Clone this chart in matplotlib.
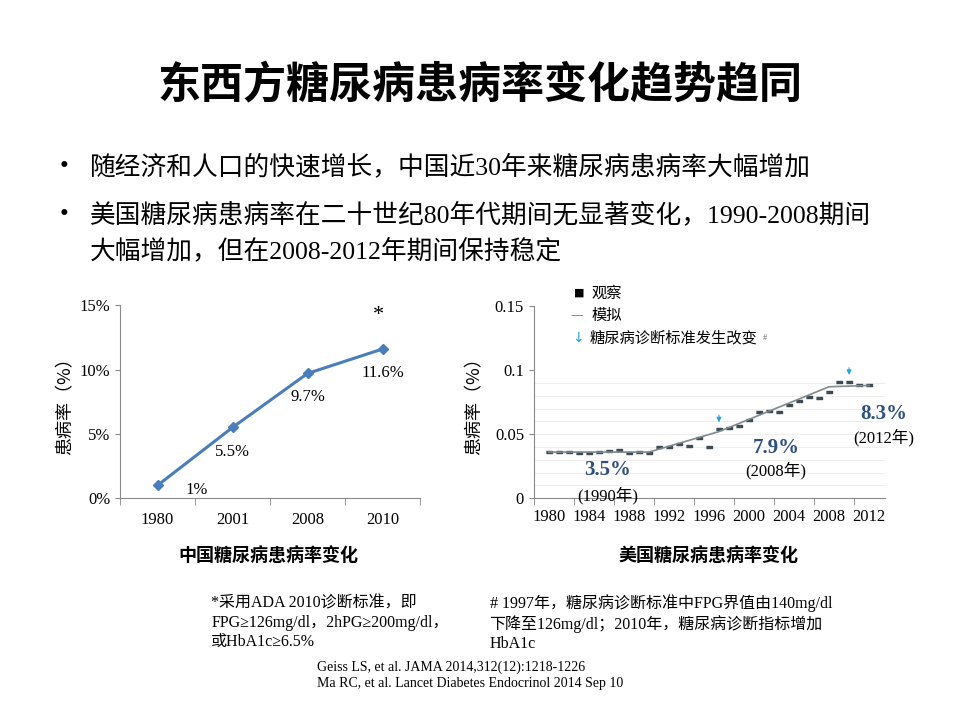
import numpy as np
import matplotlib.pyplot as plt
from matplotlib.ticker import FixedLocator, FuncFormatter

# fonts: serif for latin, CJK fallback
MIX = ['Liberation Serif', 'Noto Sans CJK SC']
CJK = ['Noto Sans CJK SC', 'DejaVu Sans']
plt.rcParams['font.family'] = MIX

# left chart data (China)
cn_years = ['1980', '2001', '2008', '2010']
cn_rate = [1.0, 5.5, 9.7, 11.6]
cn_labels = ['1%', '5.5%', '9.7%', '11.6%']

# right chart data (USA)
us_years = np.arange(1980, 2013)
us_obs = [0.036, 0.036, 0.036, 0.035, 0.035, 0.036, 0.037, 0.038, 0.035, 0.036, 0.035,
          0.040, 0.040, 0.042, 0.041, 0.047, 0.040,
          0.054, 0.055, 0.056, 0.061, 0.067, 0.068, 0.067, 0.073, 0.076, 0.079,
          0.078, 0.083, 0.091, 0.091, 0.088, 0.088]
model_years = [1980, 1990, 1997, 2008, 2012]
model_vals = [0.036, 0.036, 0.052, 0.087, 0.088]
change_years = [1997, 2010]

fig = plt.figure(figsize=(9.6, 7.2), dpi=100)
fig.patch.set_facecolor('white')

fig.text(0.5, 0.882, '东西方糖尿病患病率变化趋势趋同', family=CJK, fontsize=31,
         fontweight='bold', ha='center', va='center')
bul = [(0.768, '随经济和人口的快速增长，中国近30年来糖尿病患病率大幅增加'),
       (0.702, '美国糖尿病患病率在二十世纪80年代期间无显著变化，1990-2008期间'),
       (0.651, '大幅增加，但在2008-2012年期间保持稳定')]
for i, (y, s) in enumerate(bul):
    if i < 2:
        fig.text(0.062, y, '•', fontsize=18, va='center')
    fig.text(0.094, y, s, fontsize=18.5, va='center')

# ---- left chart ----
ax1 = fig.add_axes([0.125, 0.308, 0.3125, 0.268])
x = np.arange(len(cn_years))
blue = '#4a7ebb'
ax1.plot(x, cn_rate, color=blue, lw=2.2, marker='D', ms=5)
ax1.set_xlim(-0.5, 3.5)
ax1.set_ylim(0, 15)
ax1.set_yticks([0, 5, 10, 15])
ax1.yaxis.set_major_formatter(FuncFormatter(lambda v, p: '%d%%' % v))
ax1.set_xticks(x)
ax1.set_xticklabels(cn_years)
ax1.xaxis.set_minor_locator(FixedLocator([-0.5, 0.5, 1.5, 2.5, 3.5]))
ax1.tick_params(axis='x', which='major', length=0, pad=10, labelsize=12)
ax1.tick_params(axis='x', which='minor', length=5, color='#888888')
ax1.tick_params(axis='y', labelsize=12, color='#888888')
for sp in ['top', 'right']:
    ax1.spines[sp].set_visible(False)
for sp in ['left', 'bottom']:
    ax1.spines[sp].set_color('#888888')
offs = [(28, -3), (0, -18), (0, -17), (0, -17)]
for xi, yi, lab, o in zip(x, cn_rate, cn_labels, offs):
    ax1.annotate(lab, (xi, yi), xytext=o, textcoords='offset points',
                 ha='center', va='center', fontsize=12)
ax1.annotate('*', (3, cn_rate[3]), xytext=(-3, 24), textcoords='offset points',
             ha='center', va='center', fontsize=16)
ax1.set_ylabel('患病率（%）', family=CJK, fontsize=13, labelpad=4)
fig.text(0.28, 0.228, '中国糖尿病患病率变化', family=CJK, fontsize=13,
         fontweight='bold', ha='center', va='center')

# ---- right chart ----
ax2 = fig.add_axes([0.556, 0.308, 0.366, 0.267])
dark = '#3d4b55'
rect = [(-1, -0.5), (1, -0.5), (1, 0.5), (-1, 0.5)]
ax2.plot(us_years, us_obs, ls='none', marker=rect, ms=4, color=dark)
ax2.plot(model_years, model_vals, color='#7f8a90', lw=1.2)
for cy in change_years:
    v = us_obs[cy - 1980]
    ax2.annotate('', xy=(cy, v + 0.003), xytext=(cy, v + 0.013),
                 arrowprops=dict(arrowstyle='-|>', color='#29a3d8', lw=0.8,
                                 mutation_scale=7))
ax2.set_xlim(1978.5, 2013.6)
ax2.set_ylim(0, 0.15)
ax2.set_yticks([0, 0.05, 0.1, 0.15])
ax2.set_yticklabels(['0', '0.05', '0.1', '0.15'])
ax2.set_xticks(np.arange(1980, 2013, 4))
ax2.xaxis.set_minor_locator(FixedLocator(np.arange(1978.5, 2014, 4)))
ax2.tick_params(axis='x', which='major', length=0, pad=8, labelsize=12)
ax2.tick_params(axis='x', which='minor', length=5, color='#888888')
ax2.tick_params(axis='y', labelsize=12, color='#888888')
for gy in np.arange(0.01, 0.1, 0.01):
    ax2.axhline(gy, color='#eeeeee', lw=0.8, zorder=0)
for sp in ['top', 'right']:
    ax2.spines[sp].set_visible(False)
for sp in ['left', 'bottom']:
    ax2.spines[sp].set_color('#888888')
ax2.set_ylabel('患病率（%）', family=CJK, fontsize=13, labelpad=8)
navy = '#2e4f80'
for xx, yv, yy, pct, yr in [(1985.9, 0.022, 0.0023, '3.5%', '(1990年)'),
                             (2002.7, 0.039, 0.022, '7.9%', '(2008年)'),
                             (2013.5, 0.066, 0.047, '8.3%', '(2012年)')]:
    ax2.text(xx, yv, pct, color=navy, fontsize=15, fontweight='bold',
             ha='center', va='center', clip_on=False)
    ax2.text(xx, yy, yr, fontsize=12, ha='center', va='center', clip_on=False)

fig.text(0.598, 0.593, '■', family=['DejaVu Sans'], fontsize=8, va='center')
fig.text(0.594, 0.562, '—', family=['DejaVu Sans'], fontsize=9, va='center', color='#7f8a90')
fig.text(0.596, 0.530, '↓', family=['DejaVu Sans'], fontsize=10, va='center', color='#29a3d8')
fig.text(0.616, 0.593, '观察', family=CJK, fontsize=11, va='center')
fig.text(0.616, 0.562, '模拟', family=CJK, fontsize=11, va='center')
fig.text(0.614, 0.530, '糖尿病诊断标准发生改变', family=CJK, fontsize=11, va='center')
fig.text(0.795, 0.530, '#', fontsize=6, va='center', color='#666666')
fig.text(0.738, 0.228, '美国糖尿病患病率变化', family=CJK, fontsize=13,
         fontweight='bold', ha='center', va='center')

# footnotes
fig.text(0.22, 0.135, '*采用ADA 2010诊断标准，即\nFPG≥126mg/dl，2hPG≥200mg/dl，\n或HbA1c≥6.5%',
         fontsize=11.5, va='center', linespacing=1.25)
fig.text(0.51, 0.135, '# 1997年，糖尿病诊断标准中FPG界值由140mg/dl\n下降至126mg/dl；2010年，糖尿病诊断指标增加\nHbA1c',
         fontsize=11.5, va='center', linespacing=1.25)
fig.text(0.33, 0.062, 'Geiss LS, et al. JAMA 2014,312(12):1218-1226\nMa RC, et al. Lancet Diabetes Endocrinol 2014 Sep 10',
         fontsize=10, va='center', linespacing=1.3)

fig.savefig('out.png', dpi=100, facecolor='white')
